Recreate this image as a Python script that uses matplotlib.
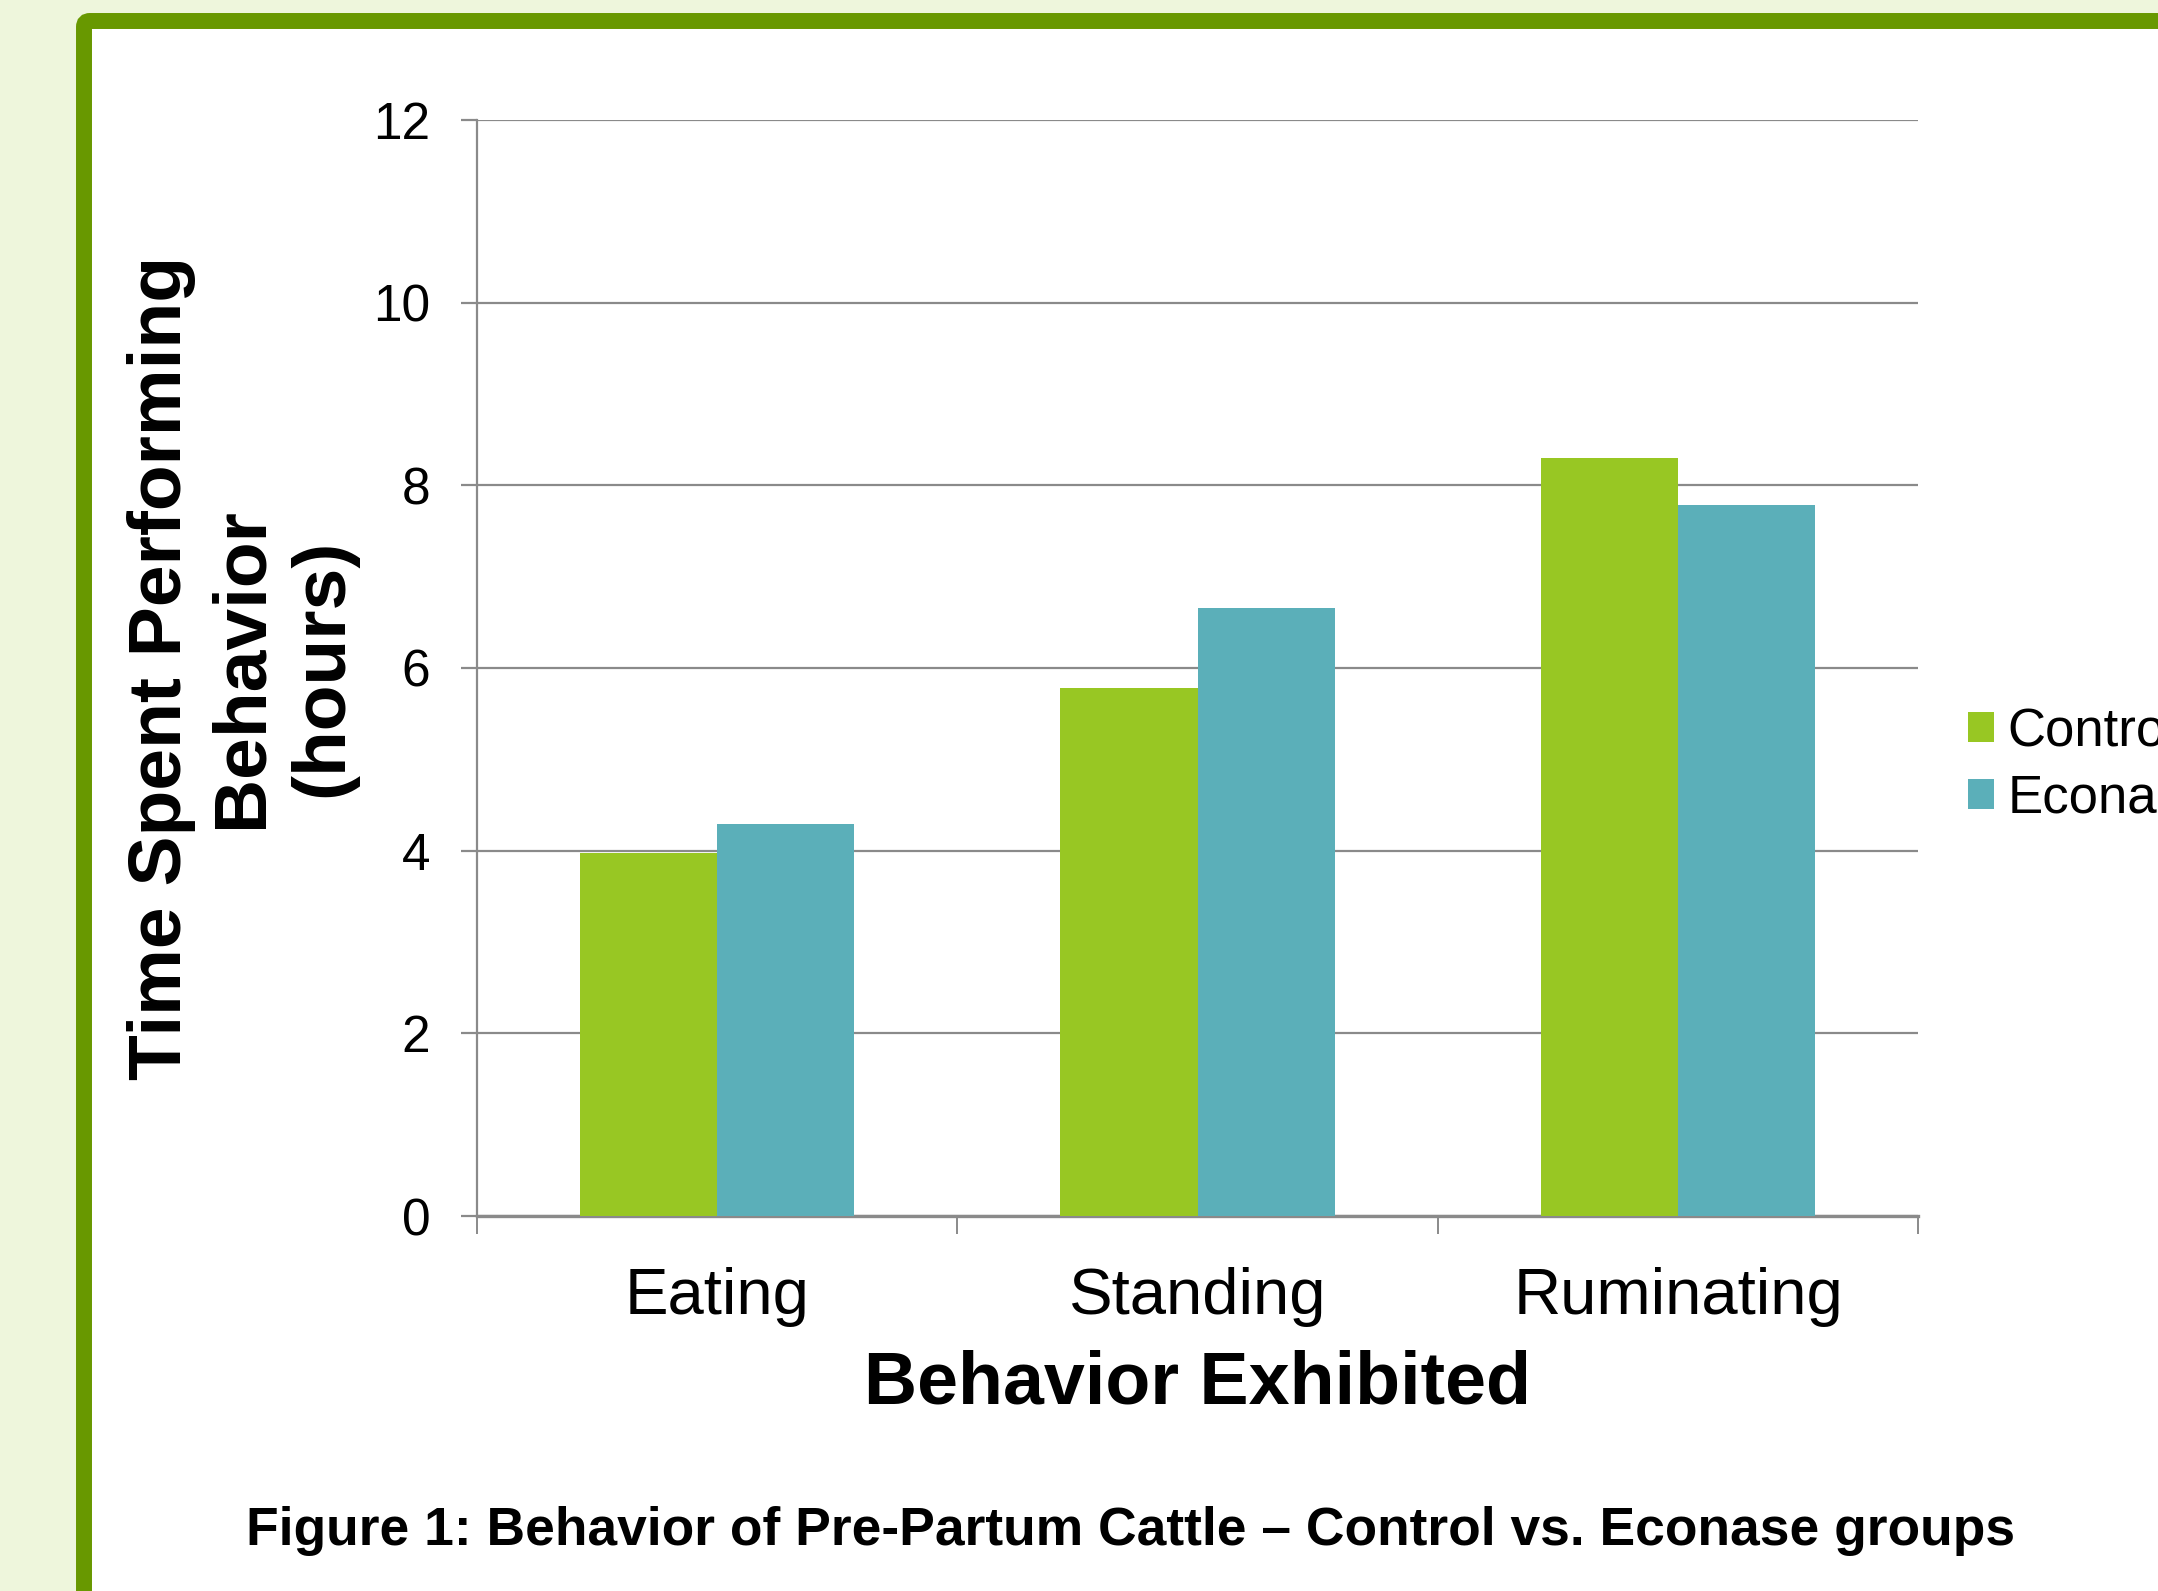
import numpy as np
import matplotlib
matplotlib.use("Agg")
import matplotlib.pyplot as plt
from matplotlib.patches import FancyBboxPatch

plt.rcParams['font.family'] = ['Liberation Sans', 'DejaVu Sans']

# data
behaviors = ['Eating', 'Standing', 'Ruminating']
control = [3.97, 5.78, 8.30]
econase = [4.29, 6.66, 7.78]
series_names = ['Control', 'Econase']
y_ticks = [0, 2, 4, 6, 8, 10, 12]

green = '#98c723'
teal = '#5bafb9'
grid_col = '#8a8a8a'

fig = plt.figure(figsize=(21.58, 15.91), dpi=100, facecolor='#eef6dc')

# green slide frame, white inside (behind the axes)
frame = FancyBboxPatch((0.84, -1.0), 22.0, 16.70,
                       boxstyle='round,pad=0,rounding_size=0.06',
                       transform=fig.dpi_scale_trans,
                       facecolor='white', edgecolor='#689800',
                       linewidth=11.5, zorder=-10)
fig.patches.append(frame)

ax = fig.add_axes([0.221, 0.2357, 0.668, 0.689])
ax.set_facecolor('none')

x = np.arange(len(behaviors))
w = 0.2857
ax.bar(x - w / 2, control, width=w, color=green, label=series_names[0], zorder=3)
ax.bar(x + w / 2, econase, width=w, color=teal, label=series_names[1], zorder=3)

ax.set_xlim(-0.5, 2.5)
ax.set_ylim(0, 12)
ax.set_yticks(y_ticks)
ax.yaxis.grid(True, color=grid_col, linewidth=1.6, zorder=1)
ax.set_axisbelow(True)

for s in ['top', 'right']:
    ax.spines[s].set_visible(False)
ax.spines['left'].set_color(grid_col)
ax.spines['left'].set_linewidth(1.6)
ax.spines['bottom'].set_color(grid_col)
ax.spines['bottom'].set_linewidth(2.4)

ax.set_xticks(x)
ax.set_xticklabels(behaviors)
ax.set_xticks([-0.5, 0.5, 1.5, 2.5], minor=True)
ax.tick_params(axis='x', which='major', length=0, pad=37, labelsize=47)
ax.tick_params(axis='x', which='minor', length=13, width=1.4, color=grid_col)
ax.tick_params(axis='y', length=11.5, width=1.6, color=grid_col, pad=22, labelsize=37)

ax.set_xlabel('Behavior Exhibited', fontsize=53, fontweight='bold', labelpad=16)
ax.set_ylabel('Time Spent Performing\nBehavior\n(hours)', fontsize=54,
              fontweight='bold', va='center', ha='center',
              multialignment='center', linespacing=1.22)
ax.yaxis.set_label_coords(-0.163, 0.5)

ax.legend(loc='center left', bbox_to_anchor=(0.912, 0.519),
          bbox_transform=fig.transFigure, frameon=False, fontsize=38,
          handlelength=0.5, handleheight=0.5, handletextpad=0.25,
          labelspacing=0.32, borderpad=0, borderaxespad=0)

fig.text(0.524, 0.0375, 'Figure 1: Behavior of Pre-Partum Cattle \u2013 Control vs. Econase groups',
         ha='center', va='center', fontsize=38.4, fontweight='bold')

fig.savefig('out.png', dpi=100, facecolor=fig.get_facecolor())
